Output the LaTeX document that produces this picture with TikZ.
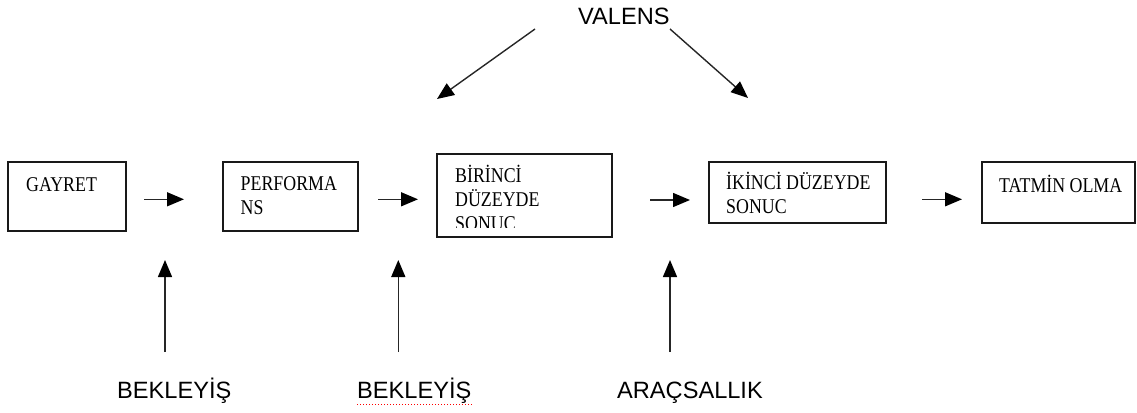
\documentclass[tikz,border=0pt]{standalone}
\usepackage{fontspec}
\usetikzlibrary{arrows.meta}
\newfontfamily\boxfont{Liberation Serif}[FakeStretch=0.85]
\newfontfamily\labelfont{Liberation Sans}
\begin{document}
\begin{tikzpicture}[x=1pt,y=-1pt,
  box/.style={draw=black!90,line width=1.5pt,inner sep=0pt},
  boxtext/.style={inner sep=0pt,anchor=base west,align=left,
    font=\boxfont\fontsize{21}{24}\selectfont},
  label/.style={inner sep=0pt,anchor=base west,
    font=\labelfont\fontsize{23.6}{28}\selectfont},
  arr/.style={draw=black!85,line width=1.4pt,
    -{Triangle[length=17pt,width=14pt,color=black]}}]
\useasboundingbox (0,0) rectangle (1137,412);

% process boxes
\node[box,minimum width=118pt,minimum height=69pt] (gayret) at (67,196.5) {};
\node[box,minimum width=135pt,minimum height=69pt] (perf) at (290.5,196.5) {};
\node[box,minimum width=175pt,minimum height=83pt] (birinci) at (524.5,195.5) {};
\node[box,minimum width=177pt,minimum height=61pt] (ikinci) at (797.5,192.5) {};
\node[box,minimum width=153pt,minimum height=61pt] (tatmin) at (1058.5,192.5) {};

% box captions (multi-line captions are placed by their last baseline)
\node[boxtext] (tgayret) at (26,191.5) {GAYRET};
\node[boxtext] (tperf) at (240.5,214.5) {PERFORMA\\NS};
\begin{scope}
  \clip (437,154) rectangle (612,227);
  \node[boxtext] (tbirinci) at (455,230.5) {BİRİNCİ\\DÜZEYDE\\SONUC};
\end{scope}
\node[boxtext] (tikinci) at (726,213.5) {İKİNCİ DÜZEYDE\\SONUC};
\node[boxtext] (ttatmin) at (999,192.5) {TATMİN OLMA};

% outer labels
\node[label] (valens) at (578,25) {VALENS};
\node[label] (bek1) at (117,398) {BEKLEYİŞ};
\node[label] (bek2) at (357,398) {BEKLEYİŞ};
\node[label] (aracs) at (617,398) {ARAÇSALLIK};
\draw[red,dotted,line width=1pt] ([yshift=-6pt]bek2.base west) -- ([yshift=-6pt]bek2.base east);

% arrow end points
\coordinate (h1s) at (144,199.3); \coordinate (h1e) at (184,199.3);
\coordinate (h2s) at (378,199.3); \coordinate (h2e) at (418,199.3);
\coordinate (h3s) at (650,200);   \coordinate (h3e) at (690,200);
\coordinate (h4s) at (922,199.3); \coordinate (h4e) at (962,199.3);
\coordinate (v1s) at (165,352);   \coordinate (v1e) at (165,260);
\coordinate (v2s) at (398.3,352); \coordinate (v2e) at (398.3,260);
\coordinate (v3s) at (670,352);   \coordinate (v3e) at (670,260);
\coordinate (d1s) at (535,29);    \coordinate (d1e) at (437,99);
\coordinate (d2s) at (670,29);    \coordinate (d2e) at (748,98);

% flow arrows
\draw[arr] (h1s) -- (h1e);
\draw[arr] (h2s) -- (h2e);
\draw[arr] (h3s) -- (h3e);
\draw[arr] (h4s) -- (h4e);
\draw[arr] (v1s) -- (v1e);
\draw[arr] (v2s) -- (v2e);
\draw[arr] (v3s) -- (v3e);
\draw[arr] (d1s) -- (d1e);
\draw[arr] (d2s) -- (d2e);
\end{tikzpicture}
\end{document}
